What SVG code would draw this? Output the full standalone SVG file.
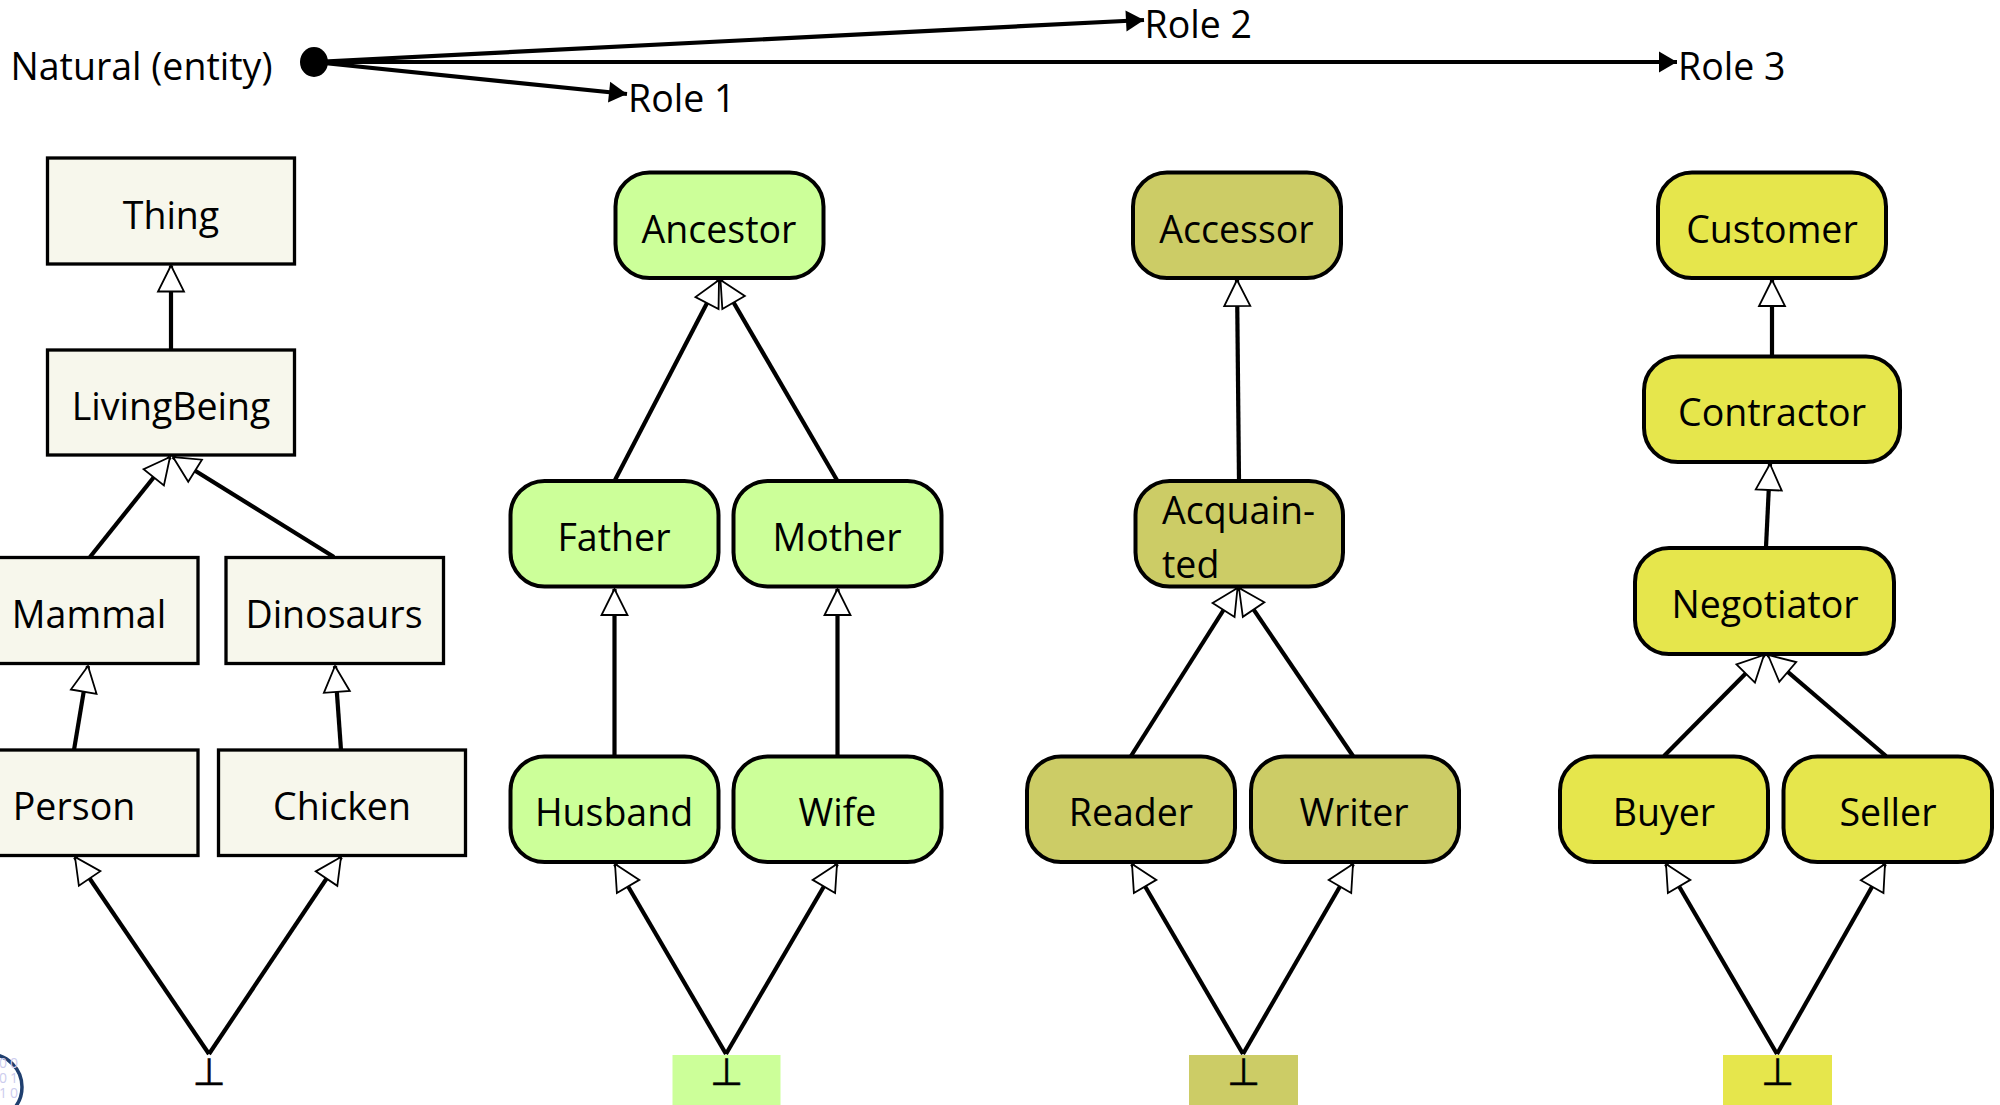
<svg xmlns="http://www.w3.org/2000/svg" width="2000" height="1105" viewBox="0 0 2000 1105">
<style>
text{font-family:"Open Sans","Noto Sans",sans-serif;font-size:37.500px;fill:#000}
.c{text-anchor:middle}
.b{font-family:"DejaVu Sans",sans-serif;font-size:38px;stroke:#000;stroke-width:.5px}
.box{stroke:#000;stroke-width:3.300}
.nat{fill:#f7f7ec}
.g{fill:#ccff99}
.o{fill:#cccc66}
.y{fill:#e6e64c}
.box.g,.box.o,.box.y{stroke-width:4}
.d{font-size:14px;fill:#ccccee;letter-spacing:3px}
#connectors line{stroke:#000;stroke-width:4.200;fill:none}
.h{marker-end:url(#hollow)}
.f{marker-end:url(#solid)}
</style>
<defs>
<marker id="hollow" markerUnits="userSpaceOnUse" markerWidth="32" markerHeight="32" viewBox="-30 -15 32 30" refX="0" refY="0" orient="auto"><path d="M0 0L-26 -13V13Z" fill="#fff" stroke="#000" stroke-width="1.800"/></marker>
<marker id="solid" markerUnits="userSpaceOnUse" markerWidth="22" markerHeight="24" viewBox="-20 -12 22 24" refX="0" refY="0" orient="auto"><path d="M0 0L-18 -10.500V10.500Z" fill="#000"/></marker>
</defs>
<rect width="2000" height="1105" fill="#fff"/>
<g id="logo">
<circle cx="-11" cy="1087" r="33" fill="#fff" stroke="#1f3f6f" stroke-width="3.500"/>
<text class="d" x="-1" y="1068">00</text>
<text class="d" x="-1" y="1083">01</text>
<text class="d" x="-1" y="1098">10</text>
</g>
<g id="connectors">
<line class="f" x1="314" y1="62" x2="627" y2="94"/>
<line class="f" x1="314" y1="62" x2="1144" y2="20"/>
<line class="f" x1="314" y1="62" x2="1677" y2="62"/>
<line class="h" x1="171" y1="349" x2="171" y2="265.500"/>
<line class="h" x1="90" y1="557" x2="170" y2="457"/>
<line class="h" x1="334" y1="557" x2="173" y2="457"/>
<line class="h" x1="74" y1="750" x2="88" y2="666"/>
<line class="h" x1="341" y1="750" x2="335" y2="666"/>
<line class="h" x1="209" y1="1054" x2="75" y2="857"/>
<line class="h" x1="209" y1="1054" x2="341" y2="857"/>
<line class="h" x1="614.500" y1="481" x2="719" y2="280"/>
<line class="h" x1="837.500" y1="481" x2="720.500" y2="280"/>
<line class="h" x1="614.500" y1="756" x2="614.500" y2="589"/>
<line class="h" x1="837.500" y1="756" x2="837.500" y2="589"/>
<line class="h" x1="726" y1="1054" x2="615" y2="864"/>
<line class="h" x1="726" y1="1054" x2="837" y2="864"/>
<line class="h" x1="1239" y1="481" x2="1237" y2="280"/>
<line class="h" x1="1131" y1="756" x2="1237.500" y2="588"/>
<line class="h" x1="1353" y1="756" x2="1239" y2="588"/>
<line class="h" x1="1243" y1="1054" x2="1132" y2="864"/>
<line class="h" x1="1243" y1="1054" x2="1353" y2="864"/>
<line class="h" x1="1772" y1="356" x2="1772" y2="280"/>
<line class="h" x1="1766" y1="547" x2="1770" y2="464"/>
<line class="h" x1="1664" y1="756" x2="1764" y2="655"/>
<line class="h" x1="1886" y1="756" x2="1768" y2="655"/>
<line class="h" x1="1777" y1="1054" x2="1666" y2="864"/>
<line class="h" x1="1777" y1="1054" x2="1885" y2="864"/>
</g>
<g id="natural"><ellipse cx="314" cy="62" rx="14" ry="15" fill="#000"/><text x="10.500" y="79.500">Natural (entity)</text></g>
<g id="role1"><text x="628" y="111.500">Role 1</text></g>
<g id="role2"><text x="1144.500" y="37.500">Role 2</text></g>
<g id="role3"><text x="1678" y="79.500">Role 3</text></g>
<g id="thing"><rect class="box nat" x="47.500" y="158" width="247" height="106"/><text class="c" x="171" y="229">Thing</text></g>
<g id="livingbeing"><rect class="box nat" x="47.500" y="350" width="247" height="105"/><text class="c" x="171" y="419.500">LivingBeing</text></g>
<g id="mammal"><rect class="box nat" x="-50" y="557.500" width="248" height="106"/><text class="c" x="89" y="628">Mammal</text></g>
<g id="dinosaurs"><rect class="box nat" x="226" y="557.500" width="217.500" height="106"/><text class="c" x="334" y="628">Dinosaurs</text></g>
<g id="person"><rect class="box nat" x="-50" y="750" width="248" height="105.500"/><text class="c" x="74" y="820">Person</text></g>
<g id="chicken"><rect class="box nat" x="218.500" y="750" width="247" height="105.500"/><text class="c" x="342" y="820">Chicken</text></g>
<g id="bot1"><text class="c b" x="209" y="1085">⊥</text></g>
<g id="ancestor"><rect class="box g" x="615.500" y="172.500" width="208" height="105.500" rx="34"/><text class="c" x="719" y="242.500">Ancestor</text></g>
<g id="father"><rect class="box g" x="510.500" y="481" width="208" height="105.500" rx="34"/><text class="c" x="614" y="551">Father</text></g>
<g id="mother"><rect class="box g" x="733.500" y="481" width="208" height="105.500" rx="34"/><text class="c" x="837" y="551">Mother</text></g>
<g id="husband"><rect class="box g" x="510.500" y="756.500" width="208" height="105.500" rx="34"/><text class="c" x="614" y="826">Husband</text></g>
<g id="wife"><rect class="box g" x="733.500" y="756.500" width="208" height="105.500" rx="34"/><text class="c" x="837.500" y="826">Wife</text></g>
<g id="bot2"><rect class="g" x="672.500" y="1055" width="108" height="50"/><text class="c b" x="726.500" y="1085">⊥</text></g>
<g id="accessor"><rect class="box o" x="1133" y="172.500" width="208" height="105.500" rx="34"/><text class="c" x="1236.500" y="242.500">Accessor</text></g>
<g id="acquainted"><rect class="box o" x="1135.500" y="481" width="207.500" height="105.500" rx="34"/><text x="1162" y="523.500">Acquain-</text><text x="1162" y="578">ted</text></g>
<g id="reader"><rect class="box o" x="1027" y="756.500" width="208" height="105.500" rx="34"/><text class="c" x="1131" y="826">Reader</text></g>
<g id="writer"><rect class="box o" x="1251" y="756.500" width="208" height="105.500" rx="34"/><text class="c" x="1354" y="826">Writer</text></g>
<g id="bot3"><rect class="o" x="1189" y="1055" width="109" height="50"/><text class="c b" x="1243.500" y="1085">⊥</text></g>
<g id="customer"><rect class="box y" x="1658" y="172.500" width="228" height="105.500" rx="34"/><text class="c" x="1772" y="242.500">Customer</text></g>
<g id="contractor"><rect class="box y" x="1644" y="356.500" width="256" height="105.500" rx="34"/><text class="c" x="1772" y="426">Contractor</text></g>
<g id="negotiator"><rect class="box y" x="1635" y="548" width="259" height="106" rx="34"/><text class="c" x="1765" y="617.500">Negotiator</text></g>
<g id="buyer"><rect class="box y" x="1560" y="756.500" width="208" height="105.500" rx="34"/><text class="c" x="1664" y="826">Buyer</text></g>
<g id="seller"><rect class="box y" x="1783.500" y="756.500" width="208.500" height="105.500" rx="34"/><text class="c" x="1888" y="826">Seller</text></g>
<g id="bot4"><rect class="y" x="1723" y="1055" width="109" height="50"/><text class="c b" x="1777.500" y="1085">⊥</text></g>
</svg>
